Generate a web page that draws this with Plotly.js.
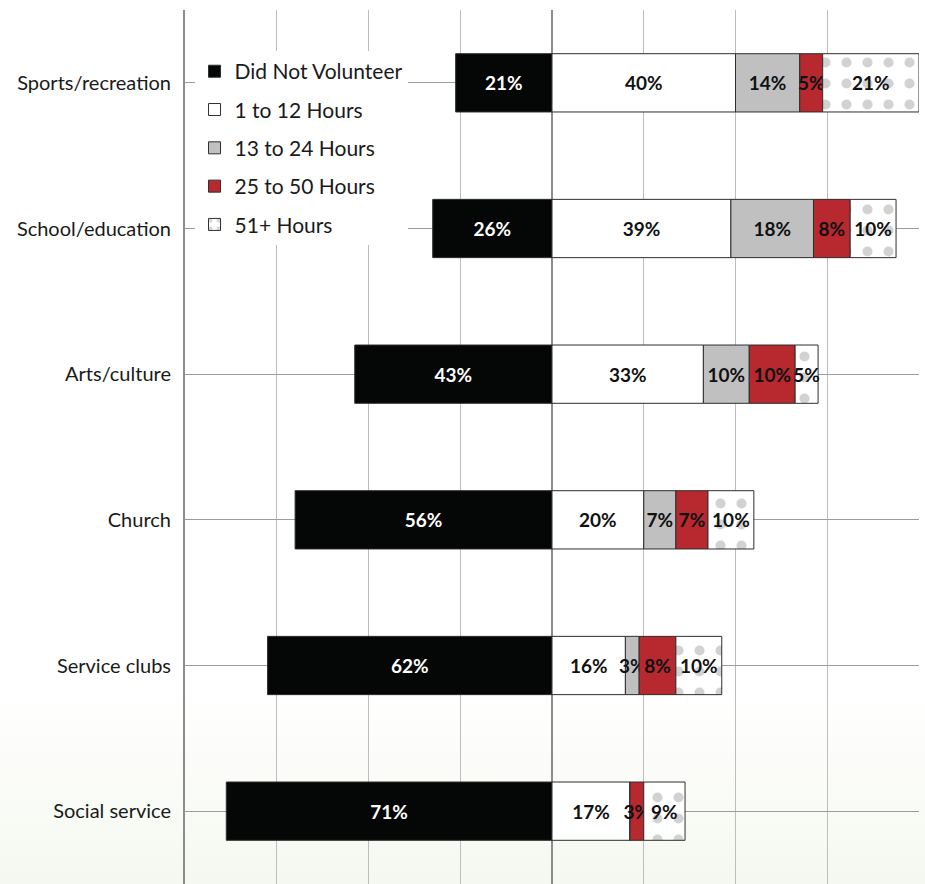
<!DOCTYPE html>
<html><head><meta charset="utf-8">
<script src="https://cdn.plot.ly/plotly-3.0.1.min.js"></script>
<style>
html,body{margin:0;padding:0;background:linear-gradient(to bottom,#ffffff 0%,#ffffff 78%,#f5f8f0 100%);}
#chart{width:925px;height:884px;}
</style>
</head><body><div id="chart"></div>
<script>
const categories = ["Sports/recreation","School/education","Arts/culture","Church","Service clubs","Social service"];
const didNotVolunteer = [21,26,43,56,62,71];
const hours1to12 = [40,39,33,20,16,17];
const hours13to24 = [14,18,10,7,3,0];
const hours25to50 = [5,8,10,7,8,3];
const hours51plus = [21,10,5,10,10,9];
const seriesNames = ["Did Not Volunteer","1 to 12 Hours","13 to 24 Hours","25 to 50 Hours","51+ Hours"];
const gridTicks = [-80,-60,-40,-20,0,20,40,60,80];

const FONT = "Lato, 'Liberation Sans', sans-serif";
const lbl = v => v.map(a => a > 0 ? a + "%" : "");

function barTrace(name, vals, sign, color, txtColor, extra) {
  const t = {
    type: "bar", orientation: "h", name: name,
    y: categories, x: vals.map(v => sign * v),
    width: 0.4,
    text: lbl(vals), textposition: "inside", insidetextanchor: "middle", textangle: 0,
    textfont: {family: FONT, size: 19, color: txtColor, weight: 700},
    marker: {color: color, line: {color: "#2e2e2e", width: 1}},
    legendgroup: name, hoverinfo: "skip", cliponaxis: false
  };
  if (extra) Object.assign(t.marker, extra);
  return t;
}

const traces = [
  barTrace(seriesNames[0], didNotVolunteer, -1, "#050606", "#ffffff"),
  barTrace(seriesNames[1], hours1to12, 1, "#ffffff", "#111111"),
  barTrace(seriesNames[2], hours13to24, 1, "#c0c0c0", "#111111"),
  barTrace(seriesNames[3], hours25to50, 1, "#b7282f", "#111111"),
  barTrace(seriesNames[4], hours51plus, 1, "#ffffff", "#111111",
    {pattern: {shape: ".", fgcolor: "#d2d2d2", bgcolor: "#ffffff", size: 21, solidity: 0.18, fillmode: "replace"}})
];

const layout = {
  width: 925, height: 884,
  margin: {l: 185, r: 6, t: 10, b: 0},
  barmode: "relative",
  paper_bgcolor: "rgba(0,0,0,0)", plot_bgcolor: "rgba(0,0,0,0)",
  font: {family: FONT, color: "#1a1a1a"},
  uniformtext: {mode: "show", minsize: 19},
  xaxis: {
    range: [-80, 80], tickvals: gridTicks, showticklabels: false, ticks: "",
    showgrid: true, gridcolor: "#bdbdbd", gridwidth: 1,
    zeroline: true, zerolinecolor: "#8c8c8c", zerolinewidth: 2, showline: false, fixedrange: true
  },
  yaxis: {
    type: "category", categoryorder: "array", categoryarray: categories, autorange: "reversed",
    showgrid: true, gridcolor: "#9c9c9c", gridwidth: 1,
    showline: true, linecolor: "#8c8c8c", linewidth: 2, ticks: "",
    ticklabelstandoff: 8, tickfont: {family: FONT, size: 20, color: "#1a1a1a"}, fixedrange: true
  },
  legend: {
    x: 0.013, y: 0.953, xanchor: "left", yanchor: "top",
    bgcolor: "#ffffff", borderwidth: 0,
    font: {family: FONT, size: 21, color: "#1a1a1a"},
    traceorder: "grouped", tracegroupgap: 8, itemclick: false, itemdoubleclick: false
  },
  showlegend: true
};

Plotly.newPlot("chart", traces, layout, {displayModeBar: false, staticPlot: true});
</script>
</body></html>
